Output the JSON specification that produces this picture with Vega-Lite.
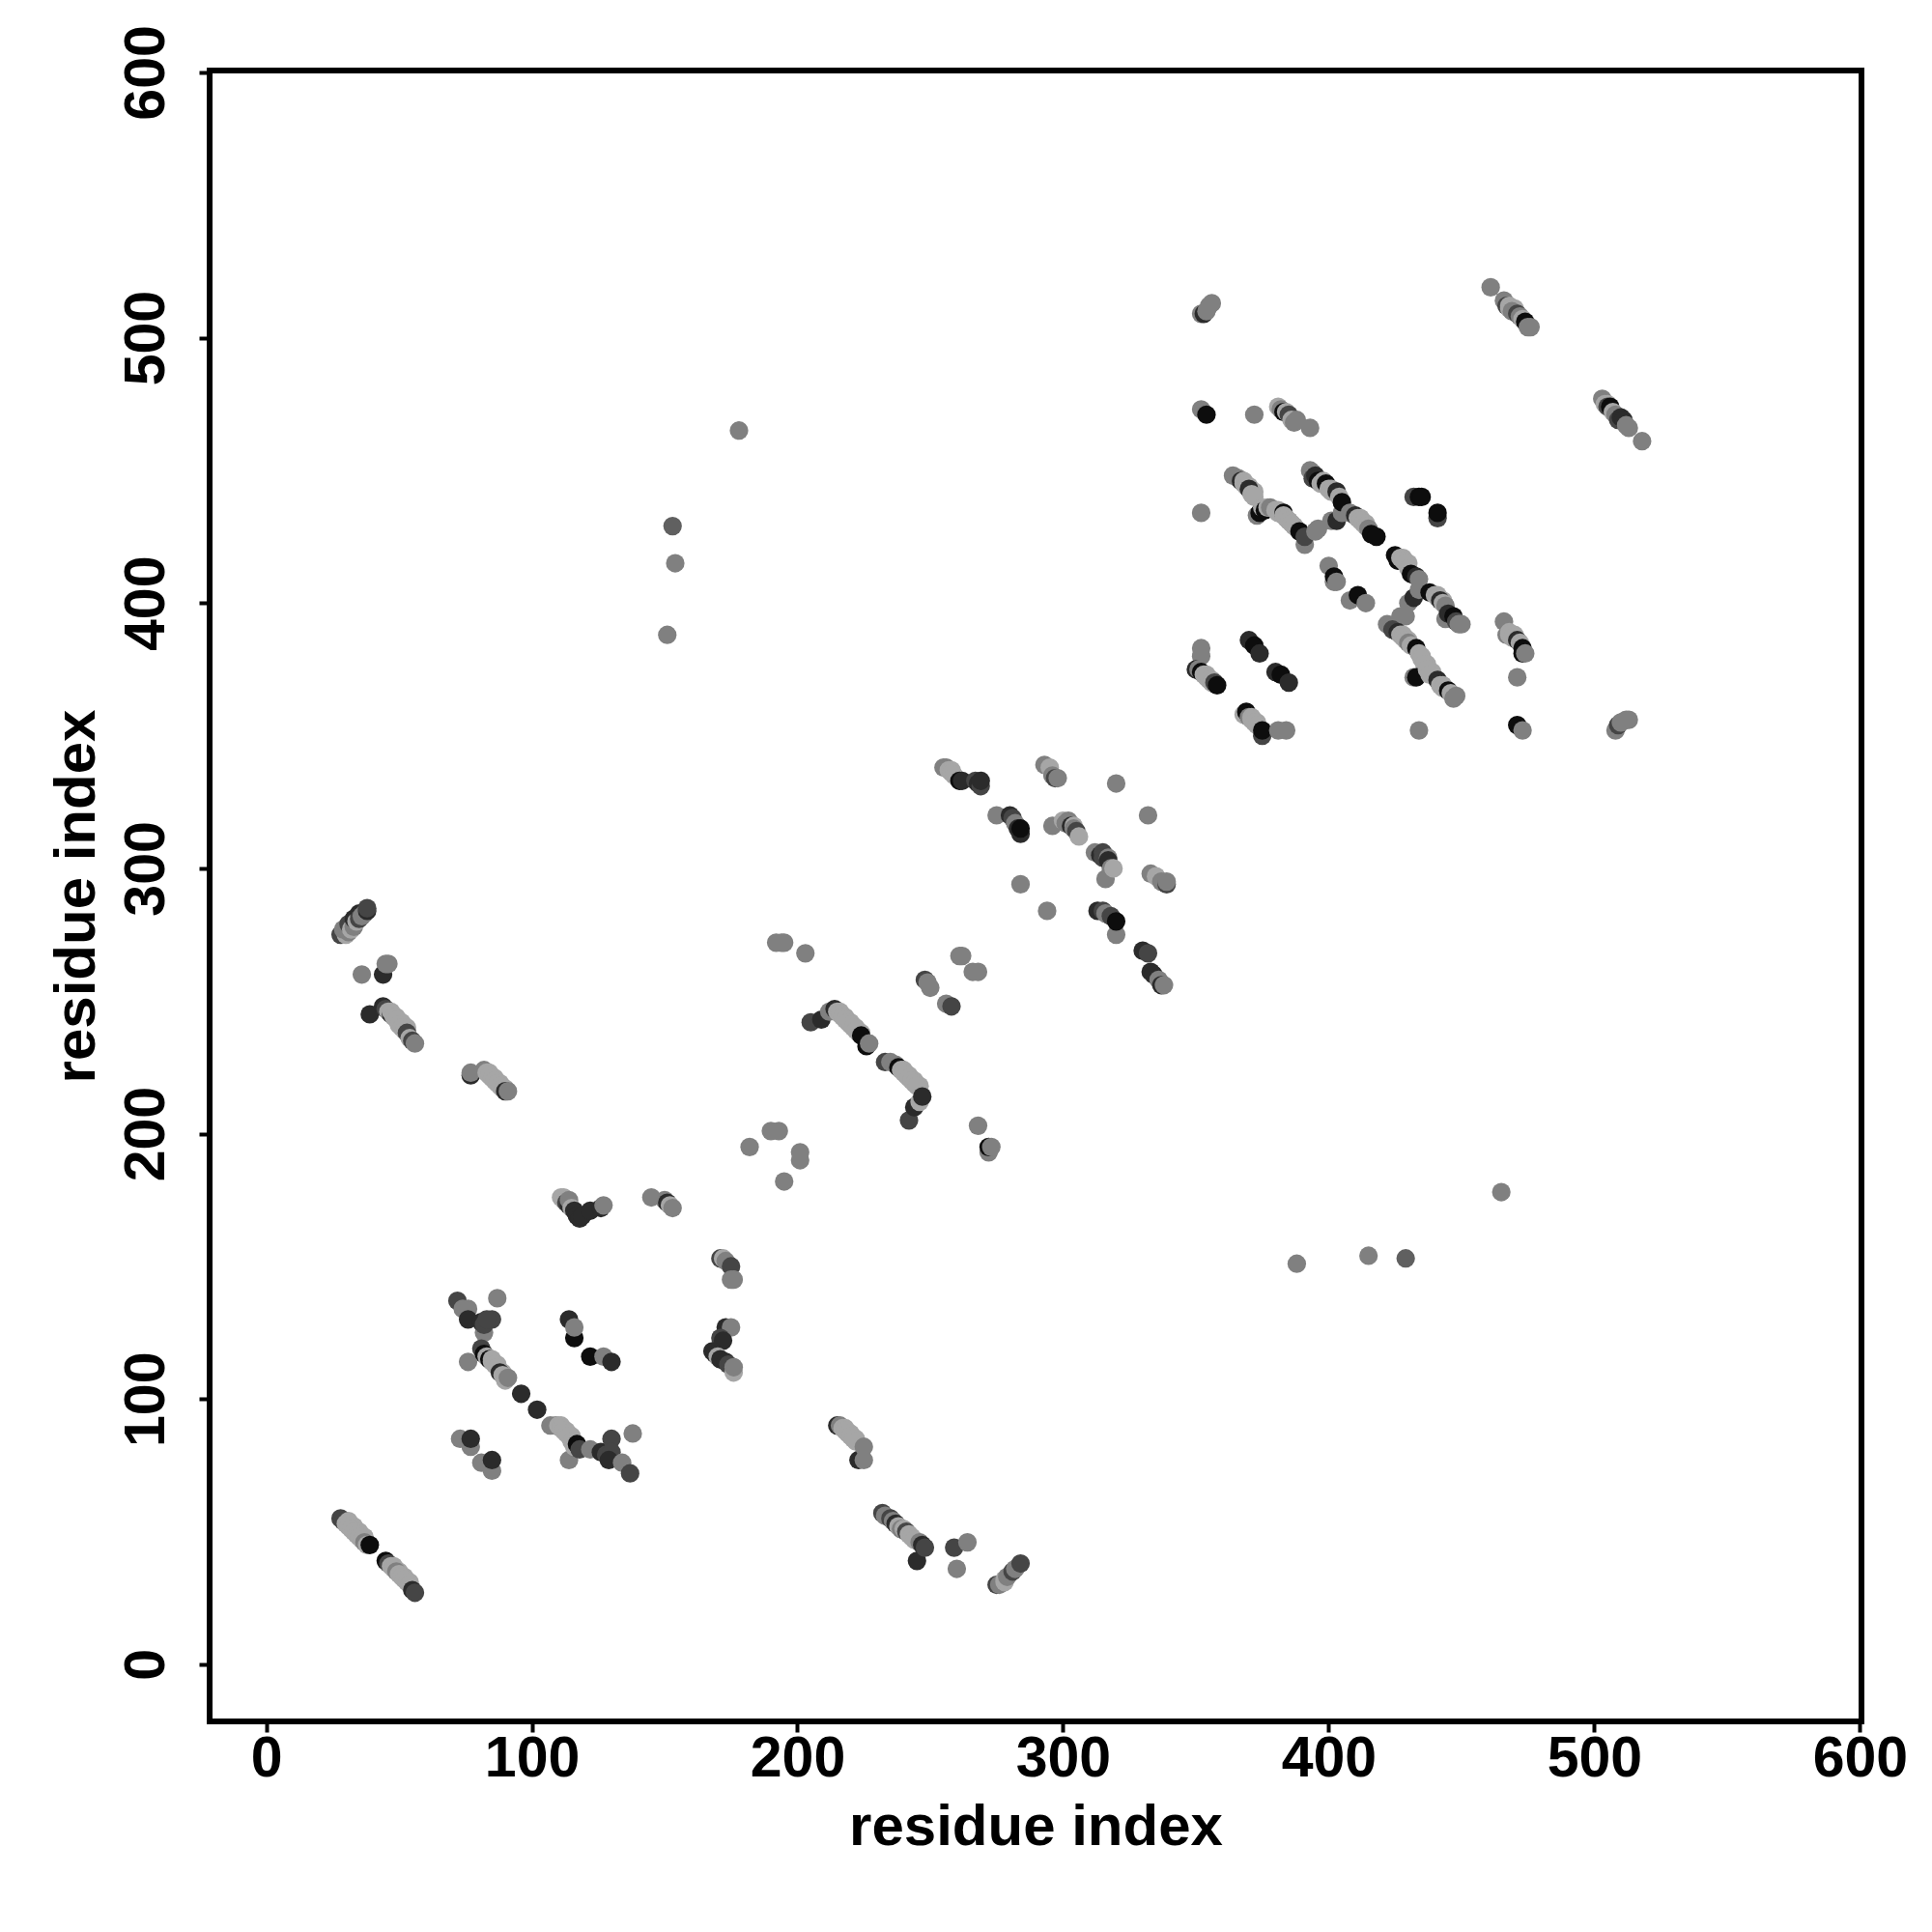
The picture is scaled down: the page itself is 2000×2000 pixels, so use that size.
{"$schema":"https://vega.github.io/schema/vega-lite/v6.json","width":1710,"height":1709,"autosize":"none","padding":{"left":217,"top":73,"right":73,"bottom":218},"background":"white","view":{"stroke":"black","strokeWidth":6,"fill":"white"},
"data":{"values":[
{"i":28,"j":55,"s":3},{"i":29,"j":54,"s":3},{"i":30,"j":53,"s":5},{"i":31,"j":54,"s":5},{"i":33,"j":52,"s":5},{"i":35,"j":50,"s":5},{"i":37,"j":48,"s":5},{"i":31,"j":52,"s":5},{"i":32,"j":51,"s":5},{"i":33,"j":50,"s":5},{"i":34,"j":49,"s":5},{"i":35,"j":48,"s":5},{"i":36,"j":47,"s":5},{"i":37,"j":46,"s":4},{"i":38,"j":45,"s":5},{"i":39,"j":45,"s":1},
{"i":45,"j":39,"s":1},{"i":46,"j":38,"s":3},{"i":47,"j":37,"s":5},{"i":48,"j":37,"s":5},{"i":50,"j":35,"s":5},{"i":52,"j":33,"s":5},{"i":54,"j":31,"s":5},{"i":48,"j":36,"s":5},{"i":49,"j":35,"s":4},{"i":50,"j":34,"s":5},{"i":51,"j":33,"s":5},{"i":52,"j":32,"s":5},{"i":53,"j":31,"s":5},{"i":54,"j":30,"s":5},{"i":55,"j":28,"s":2},{"i":56,"j":27,"s":3},
{"i":28,"j":275,"s":3},{"i":30,"j":275,"s":5},{"i":29,"j":277,"s":4},{"i":31,"j":276,"s":4},{"i":31,"j":279,"s":3},{"i":32,"j":277,"s":5},{"i":33,"j":278,"s":4},{"i":33,"j":281,"s":2},{"i":34,"j":280,"s":5},{"i":35,"j":283,"s":2},{"i":35,"j":281,"s":3},{"i":36,"j":282,"s":4},{"i":37,"j":283,"s":4},{"i":38,"j":284,"s":2},{"i":38,"j":285,"s":3},
{"i":44,"j":260,"s":2},{"i":45,"j":264,"s":4},{"i":46,"j":264,"s":4},{"i":36,"j":260,"s":4},
{"i":39,"j":245,"s":2},{"i":44,"j":248,"s":2},{"i":45,"j":247,"s":3},{"i":46,"j":246,"s":5},{"i":47,"j":245,"s":2},{"i":47,"j":246,"s":5},{"i":49,"j":244,"s":5},{"i":51,"j":242,"s":5},{"i":53,"j":240,"s":5},{"i":48,"j":244,"s":5},{"i":49,"j":243,"s":5},{"i":50,"j":241,"s":5},{"i":51,"j":240,"s":5},{"i":52,"j":239,"s":5},{"i":53,"j":238,"s":3},{"i":54,"j":236,"s":5},{"i":55,"j":235,"s":3},{"i":56,"j":234,"s":4},
{"i":77,"j":222,"s":2},{"i":77,"j":223,"s":4},{"i":82,"j":224,"s":4},{"i":84,"j":223,"s":5},{"i":86,"j":221,"s":5},{"i":88,"j":219,"s":5},{"i":90,"j":217,"s":5},{"i":83,"j":223,"s":5},{"i":84,"j":222,"s":5},{"i":85,"j":221,"s":5},{"i":86,"j":220,"s":5},{"i":87,"j":219,"s":5},{"i":88,"j":218,"s":5},{"i":89,"j":217,"s":5},{"i":90,"j":216,"s":2},{"i":91,"j":216,"s":4},
{"i":111,"j":176,"s":5},{"i":112,"j":175,"s":5},{"i":112,"j":176,"s":5},{"i":113,"j":174,"s":3},{"i":114,"j":173,"s":2},{"i":114,"j":175,"s":4},{"i":115,"j":172,"s":5},{"i":116,"j":171,"s":2},{"i":117,"j":169,"s":2},{"i":118,"j":168,"s":2},{"i":119,"j":169,"s":2},{"i":122,"j":171,"s":2},{"i":126,"j":172,"s":2},{"i":127,"j":173,"s":4},
{"i":145,"j":176,"s":4},{"i":150,"j":175,"s":4},{"i":151,"j":174,"s":2},{"i":152,"j":173,"s":5},{"i":153,"j":172,"s":4},
{"i":171,"j":153,"s":3},{"i":172,"j":153,"s":5},{"i":173,"j":152,"s":4},{"i":175,"j":150,"s":3},{"i":175,"j":145,"s":4},{"i":176,"j":145,"s":4},
{"i":173,"j":127,"s":2},{"i":175,"j":127,"s":4},{"i":171,"j":123,"s":3},{"i":172,"j":122,"s":2},{"i":168,"j":118,"s":2},{"i":169,"j":117,"s":2},{"i":170,"j":116,"s":5},{"i":171,"j":115,"s":2},{"i":173,"j":114,"s":2},{"i":174,"j":113,"s":3},{"i":176,"j":110,"s":5},{"i":176,"j":112,"s":4},
{"i":72,"j":137,"s":3},{"i":74,"j":134,"s":4},{"i":76,"j":134,"s":4},{"i":76,"j":130,"s":2},{"i":82,"j":125,"s":4},{"i":81,"j":129,"s":2},{"i":82,"j":128,"s":3},{"i":85,"j":130,"s":3},{"i":83,"j":130,"s":3},{"i":87,"j":138,"s":4},{"i":76,"j":114,"s":4},
{"i":81,"j":119,"s":3},{"i":82,"j":117,"s":1},{"i":83,"j":116,"s":5},{"i":84,"j":115,"s":1},{"i":85,"j":115,"s":5},{"i":87,"j":113,"s":5},{"i":89,"j":110,"s":5},{"i":85,"j":114,"s":5},{"i":86,"j":113,"s":5},{"i":87,"j":112,"s":5},{"i":88,"j":110,"s":2},{"i":89,"j":109,"s":5},{"i":90,"j":107,"s":5},{"i":91,"j":108,"s":4},
{"i":96,"j":102,"s":2},{"i":102,"j":96,"s":2},
{"i":107,"j":90,"s":4},{"i":109,"j":90,"s":4},{"i":110,"j":90,"s":5},{"i":111,"j":90,"s":5},{"i":113,"j":88,"s":5},{"i":115,"j":86,"s":5},{"i":111,"j":89,"s":5},{"i":112,"j":88,"s":5},{"i":113,"j":87,"s":5},{"i":114,"j":86,"s":5},{"i":115,"j":84,"s":5},{"i":114,"j":77,"s":4},{"i":116,"j":82,"s":5},{"i":117,"j":83,"s":1},{"i":118,"j":81,"s":3},
{"i":122,"j":81,"s":4},{"i":126,"j":80,"s":2},{"i":128,"j":79,"s":3},{"i":130,"j":85,"s":3},{"i":130,"j":80,"s":3},{"i":129,"j":77,"s":2},{"i":134,"j":76,"s":4},{"i":137,"j":72,"s":3},{"i":138,"j":87,"s":4},
{"i":73,"j":85,"s":4},{"i":77,"j":82,"s":4},{"i":77,"j":85,"s":2},{"i":81,"j":76,"s":4},{"i":85,"j":73,"s":4},{"i":85,"j":77,"s":2},
{"i":114,"j":130,"s":2},{"i":116,"j":123,"s":1},{"i":116,"j":127,"s":4},{"i":122,"j":116,"s":1},{"i":127,"j":116,"s":4},{"i":130,"j":114,"s":2},
{"i":215,"j":90,"s":2},{"i":216,"j":90,"s":4},{"i":217,"j":89,"s":5},{"i":218,"j":89,"s":5},{"i":220,"j":87,"s":5},{"i":222,"j":85,"s":5},{"i":218,"j":88,"s":5},{"i":219,"j":87,"s":5},{"i":220,"j":86,"s":5},{"i":221,"j":85,"s":5},{"i":222,"j":84,"s":5},{"i":223,"j":77,"s":2},{"i":225,"j":77,"s":4},{"i":225,"j":82,"s":4},
{"i":232,"j":57,"s":3},{"i":233,"j":56,"s":4},{"i":235,"j":55,"s":3},{"i":236,"j":54,"s":4},{"i":237,"j":53,"s":2},{"i":238,"j":52,"s":5},{"i":239,"j":51,"s":4},{"i":240,"j":51,"s":5},{"i":241,"j":50,"s":3},{"i":242,"j":49,"s":5},{"i":243,"j":48,"s":5},{"i":244,"j":47,"s":5},{"i":245,"j":39,"s":2},{"i":246,"j":46,"s":4},{"i":247,"j":45,"s":2},{"i":248,"j":44,"s":3},
{"i":259,"j":44,"s":3},{"i":264,"j":46,"s":4},{"i":260,"j":36,"s":4},
{"i":275,"j":30,"s":3},{"i":276,"j":30,"s":4},{"i":278,"j":31,"s":5},{"i":278,"j":32,"s":5},{"i":279,"j":33,"s":4},{"i":281,"j":35,"s":3},{"i":282,"j":36,"s":4},{"i":284,"j":38,"s":3},
{"i":205,"j":242,"s":3},{"i":209,"j":243,"s":2},{"i":212,"j":246,"s":4},{"i":214,"j":247,"s":2},{"i":215,"j":246,"s":5},{"i":216,"j":246,"s":5},{"i":218,"j":244,"s":5},{"i":220,"j":242,"s":5},{"i":222,"j":240,"s":5},{"i":224,"j":238,"s":5},{"i":216,"j":245,"s":5},{"i":217,"j":244,"s":5},{"i":218,"j":243,"s":5},{"i":219,"j":242,"s":5},{"i":220,"j":241,"s":5},{"i":221,"j":240,"s":5},{"i":222,"j":239,"s":5},{"i":223,"j":238,"s":5},{"i":224,"j":237,"s":1},{"i":226,"j":233,"s":1},{"i":227,"j":234,"s":4},
{"i":233,"j":227,"s":3},{"i":235,"j":227,"s":4},{"i":237,"j":226,"s":4},{"i":238,"j":225,"s":1},{"i":239,"j":224,"s":5},{"i":240,"j":224,"s":5},{"i":242,"j":222,"s":5},{"i":244,"j":220,"s":5},{"i":246,"j":218,"s":5},{"i":240,"j":223,"s":5},{"i":241,"j":222,"s":5},{"i":242,"j":221,"s":5},{"i":243,"j":220,"s":5},{"i":244,"j":219,"s":5},{"i":245,"j":218,"s":5},{"i":242,"j":205,"s":3},{"i":244,"j":210,"s":2},{"i":246,"j":212,"s":5},{"i":247,"j":214,"s":2},
{"i":192,"j":272,"s":4},{"i":194,"j":272,"s":4},{"i":195,"j":272,"s":4},{"i":203,"j":268,"s":4},
{"i":248,"j":258,"s":3},{"i":249,"j":257,"s":4},{"i":250,"j":255,"s":4},{"i":256,"j":249,"s":4},{"i":258,"j":248,"s":3},{"i":261,"j":267,"s":4},{"i":262,"j":267,"s":4},{"i":266,"j":261,"s":4},{"i":268,"j":261,"s":4},{"i":268,"j":203,"s":4},{"i":272,"j":193,"s":4},{"i":272,"j":195,"s":1},{"i":273,"j":195,"s":4},
{"i":182,"j":195,"s":4},{"i":190,"j":201,"s":4},{"i":193,"j":201,"s":4},{"i":201,"j":190,"s":4},{"i":201,"j":193,"s":4},{"i":195,"j":182,"s":4},
{"i":153,"j":429,"s":6},{"i":154,"j":415,"s":4},{"i":151,"j":388,"s":4},{"i":178,"j":465,"s":4},{"i":388,"j":151,"s":4},{"i":415,"j":154,"s":4},{"i":429,"j":153,"s":6},{"i":465,"j":178,"s":4},
{"i":255,"j":338,"s":4},{"i":256,"j":338,"s":4},{"i":257,"j":337,"s":5},{"i":258,"j":337,"s":5},{"i":258,"j":336,"s":5},{"i":259,"j":335,"s":5},{"i":261,"j":333,"s":1},{"i":262,"j":333,"s":2},{"i":267,"j":333,"s":3},{"i":268,"j":332,"s":2},{"i":269,"j":331,"s":3},{"i":269,"j":333,"s":2},
{"i":275,"j":320,"s":4},{"i":280,"j":320,"s":2},{"i":281,"j":319,"s":3},{"i":282,"j":317,"s":4},{"i":283,"j":315,"s":2},{"i":284,"j":313,"s":2},{"i":284,"j":315,"s":1},
{"i":293,"j":339,"s":4},{"i":295,"j":338,"s":5},{"i":296,"j":335,"s":4},{"i":297,"j":334,"s":3},{"i":298,"j":334,"s":4},{"i":320,"j":332,"s":4},{"i":332,"j":320,"s":4},{"i":296,"j":316,"s":4},{"i":300,"j":318,"s":5},{"i":302,"j":318,"s":4},{"i":301,"j":317,"s":4},{"i":303,"j":316,"s":2},{"i":304,"j":316,"s":5},{"i":304,"j":315,"s":4},{"i":305,"j":314,"s":3},{"i":306,"j":312,"s":5},
{"i":312,"j":306,"s":4},{"i":314,"j":305,"s":2},{"i":315,"j":306,"s":3},{"i":315,"j":304,"s":3},{"i":316,"j":296,"s":4},{"i":317,"j":304,"s":4},{"i":317,"j":303,"s":2},{"i":318,"j":300,"s":4},{"i":319,"j":300,"s":5},{"i":284,"j":294,"s":4},{"i":294,"j":284,"s":4},
{"i":313,"j":284,"s":2},{"i":315,"j":284,"s":3},{"i":316,"j":283,"s":4},{"i":318,"j":282,"s":3},{"i":320,"j":275,"s":4},{"i":320,"j":280,"s":1},
{"i":330,"j":269,"s":2},{"i":332,"j":268,"s":3},{"i":333,"j":261,"s":2},{"i":334,"j":260,"s":2},{"i":336,"j":258,"s":4},{"i":337,"j":256,"s":2},{"i":338,"j":256,"s":4},
{"i":333,"j":298,"s":4},{"i":335,"j":297,"s":5},{"i":337,"j":295,"s":4},{"i":339,"j":294,"s":3},{"i":339,"j":295,"s":4},
{"i":352,"j":509,"s":4},{"i":353,"j":509,"s":2},{"i":354,"j":510,"s":4},{"i":355,"j":512,"s":4},{"i":356,"j":513,"s":4},
{"i":461,"j":519,"s":4},{"i":466,"j":514,"s":4},{"i":467,"j":512,"s":3},{"i":468,"j":511,"s":5},{"i":468,"j":512,"s":5},{"i":470,"j":511,"s":5},{"i":469,"j":510,"s":4},{"i":471,"j":509,"s":3},{"i":472,"j":508,"s":4},{"i":473,"j":507,"s":5},{"i":474,"j":506,"s":1},{"i":475,"j":504,"s":4},{"i":476,"j":504,"s":4},
{"i":503,"j":477,"s":4},{"i":504,"j":475,"s":5},{"i":505,"j":475,"s":5},{"i":505,"j":474,"s":3},{"i":506,"j":474,"s":1},{"i":507,"j":472,"s":5},{"i":508,"j":471,"s":4},{"i":509,"j":469,"s":3},{"i":510,"j":470,"s":2},{"i":511,"j":469,"s":2},{"i":512,"j":467,"s":4},{"i":513,"j":466,"s":4},{"i":518,"j":461,"s":4},
{"i":352,"j":473,"s":4},{"i":354,"j":471,"s":1},{"i":372,"j":471,"s":4},
{"i":381,"j":474,"s":5},{"i":382,"j":473,"s":4},{"i":383,"j":472,"s":1},{"i":384,"j":472,"s":5},{"i":385,"j":471,"s":3},{"i":386,"j":469,"s":5},{"i":387,"j":468,"s":4},{"i":388,"j":469,"s":4},{"i":393,"j":466,"s":4},
{"i":352,"j":434,"s":4},
{"i":364,"j":448,"s":4},{"i":366,"j":447,"s":4},{"i":367,"j":446,"s":2},{"i":368,"j":446,"s":5},{"i":370,"j":444,"s":5},{"i":372,"j":442,"s":5},{"i":368,"j":445,"s":5},{"i":369,"j":444,"s":5},{"i":370,"j":443,"s":2},{"i":371,"j":441,"s":5},{"i":372,"j":440,"s":5},{"i":373,"j":433,"s":4},{"i":374,"j":434,"s":1},{"i":375,"j":436,"s":5},{"i":376,"j":435,"s":1},{"i":377,"j":436,"s":5},{"i":378,"j":436,"s":4},{"i":380,"j":435,"s":5},{"i":381,"j":435,"s":5},{"i":381,"j":434,"s":5},{"i":383,"j":434,"s":1},{"i":383,"j":433,"s":5},{"i":385,"j":431,"s":5},{"i":387,"j":429,"s":5},{"i":384,"j":432,"s":5},{"i":385,"j":431,"s":5},{"i":386,"j":430,"s":5},{"i":387,"j":429,"s":5},{"i":389,"j":427,"s":1},{"i":391,"j":422,"s":4},{"i":391,"j":425,"s":3},{"i":395,"j":427,"s":4},{"i":396,"j":428,"s":4},
{"i":401,"j":431,"s":4},{"i":403,"j":431,"s":2},{"i":405,"j":434,"s":4},
{"i":393,"j":450,"s":4},{"i":394,"j":449,"s":4},{"i":394,"j":447,"s":3},{"i":395,"j":448,"s":2},{"i":396,"j":446,"s":1},{"i":397,"j":445,"s":5},{"i":398,"j":446,"s":5},{"i":399,"j":445,"s":1},{"i":400,"j":443,"s":5},{"i":401,"j":443,"s":5},{"i":401,"j":442,"s":5},{"i":403,"j":442,"s":2},{"i":404,"j":440,"s":5},{"i":405,"j":438,"s":1},
{"i":408,"j":434,"s":4},{"i":410,"j":433,"s":2},{"i":411,"j":432,"s":5},{"i":412,"j":432,"s":5},{"i":414,"j":430,"s":5},{"i":412,"j":431,"s":5},{"i":413,"j":430,"s":5},{"i":414,"j":429,"s":5},{"i":415,"j":428,"s":4},{"i":416,"j":426,"s":1},{"i":418,"j":425,"s":1},
{"i":432,"j":440,"s":3},{"i":434,"j":440,"s":1},{"i":435,"j":440,"s":1},{"i":441,"j":432,"s":3},{"i":441,"j":434,"s":1},
{"i":425,"j":418,"s":1},{"i":426,"j":416,"s":1},{"i":427,"j":417,"s":5},{"i":428,"j":417,"s":5},{"i":430,"j":415,"s":5},{"i":428,"j":416,"s":5},{"i":429,"j":415,"s":5},{"i":430,"j":413,"s":5},{"i":431,"j":411,"s":1},{"i":433,"j":410,"s":2},{"i":434,"j":409,"s":4},{"i":427,"j":395,"s":4},{"i":422,"j":392,"s":4},{"i":429,"j":395,"s":4},{"i":430,"j":400,"s":4},{"i":432,"j":402,"s":2},{"i":434,"j":405,"s":4},
{"i":438,"j":404,"s":1},{"i":440,"j":403,"s":5},{"i":441,"j":403,"s":5},{"i":443,"j":401,"s":5},{"i":441,"j":402,"s":5},{"i":442,"j":401,"s":2},{"i":443,"j":400,"s":5},{"i":444,"j":399,"s":4},{"i":444,"j":394,"s":4},{"i":445,"j":396,"s":2},{"i":447,"j":395,"s":1},{"i":448,"j":393,"s":3},{"i":449,"j":392,"s":4},{"i":450,"j":392,"s":4},
{"i":424,"j":390,"s":3},{"i":426,"j":389,"s":2},{"i":427,"j":388,"s":5},{"i":428,"j":388,"s":5},{"i":430,"j":386,"s":5},{"i":428,"j":387,"s":5},{"i":429,"j":386,"s":5},{"i":430,"j":385,"s":4},{"i":431,"j":384,"s":5},{"i":433,"j":383,"s":1},{"i":434,"j":381,"s":5},{"i":435,"j":380,"s":5},{"i":437,"j":377,"s":5},{"i":439,"j":374,"s":5},{"i":435,"j":379,"s":5},{"i":436,"j":377,"s":5},{"i":432,"j":372,"s":4},{"i":433,"j":372,"s":1},{"i":437,"j":375,"s":5},{"i":438,"j":373,"s":5},{"i":441,"j":371,"s":2},{"i":443,"j":369,"s":5},{"i":442,"j":369,"s":5},{"i":443,"j":368,"s":5},{"i":445,"j":367,"s":1},{"i":446,"j":366,"s":5},{"i":447,"j":364,"s":4},{"i":448,"j":365,"s":4},
{"i":400,"j":414,"s":4},{"i":402,"j":408,"s":4},{"i":402,"j":410,"s":1},{"i":403,"j":408,"s":4},{"i":408,"j":401,"s":4},{"i":411,"j":403,"s":1},{"i":414,"j":400,"s":4},
{"i":352,"j":383,"s":4},{"i":352,"j":380,"s":4},{"i":350,"j":375,"s":2},{"i":351,"j":375,"s":4},{"i":352,"j":374,"s":1},{"i":353,"j":373,"s":5},{"i":354,"j":373,"s":5},{"i":356,"j":371,"s":5},{"i":354,"j":372,"s":5},{"i":355,"j":371,"s":5},{"i":356,"j":370,"s":5},{"i":357,"j":370,"s":3},{"i":358,"j":369,"s":1},
{"i":370,"j":386,"s":2},{"i":372,"j":384,"s":1},{"i":374,"j":381,"s":2},{"i":380,"j":374,"s":2},{"i":382,"j":373,"s":1},{"i":385,"j":370,"s":2},
{"i":368,"j":358,"s":5},{"i":369,"j":359,"s":1},{"i":370,"j":357,"s":4},{"i":371,"j":357,"s":5},{"i":373,"j":355,"s":5},{"i":371,"j":356,"s":5},{"i":372,"j":355,"s":5},{"i":373,"j":354,"s":5},{"i":375,"j":350,"s":3},{"i":375,"j":352,"s":1},{"i":381,"j":352,"s":4},{"i":384,"j":352,"s":4},
{"i":434,"j":352,"s":4},{"i":471,"j":372,"s":4},{"i":471,"j":354,"s":1},{"i":473,"j":352,"s":4},
{"i":466,"j":393,"s":4},{"i":467,"j":388,"s":4},{"i":468,"j":389,"s":5},{"i":468,"j":388,"s":5},{"i":470,"j":388,"s":5},{"i":469,"j":387,"s":5},{"i":471,"j":386,"s":2},{"i":472,"j":385,"s":5},{"i":473,"j":383,"s":1},{"i":473,"j":381,"s":1},{"i":474,"j":381,"s":4},
{"i":508,"j":352,"s":4},{"i":509,"j":354,"s":3},{"i":510,"j":355,"s":4},{"i":512,"j":356,"s":4},{"i":513,"j":356,"s":4}
]},
"mark":{"type":"circle","size":370,"opacity":1},
"encoding":{
"x":{"field":"i","type":"quantitative","scale":{"domain":[-21.3,600.6],"nice":false,"zero":false},"axis":{"title":"residue index","values":[0,100,200,300,400,500,600],"domain":false,"grid":false,"tickColor":"black","tickWidth":4,"tickSize":11,"labelFont":"Liberation Sans","labelFontWeight":"bold","labelFontSize":59,"labelColor":"black","labelPadding":-2,"labelOverlap":false,"labelBound":false,"labelFlush":false,"titleFont":"Liberation Sans","titleFontWeight":"bold","titleFontSize":60,"titleColor":"black","titlePadding":12}},
"y":{"field":"j","type":"quantitative","scale":{"domain":[-21.5,600.7],"nice":false,"zero":false},"axis":{"title":"residue index","values":[0,100,200,300,400,500,600],"domain":false,"grid":false,"tickColor":"black","tickWidth":4,"tickSize":11,"labelFont":"Liberation Sans","labelFontWeight":"bold","labelFontSize":59,"labelColor":"black","labelAngle":-90,"labelAlign":"center","labelBaseline":"bottom","labelPadding":25,"labelOverlap":false,"labelBound":false,"labelFlush":false,"titleFont":"Liberation Sans","titleFontWeight":"bold","titleFontSize":60,"titleColor":"black","titlePadding":12}},
"color":{"field":"s","type":"ordinal","legend":null,"scale":{"domain":[1,2,3,6,4,5],"range":["#0d0d0d","#2b2b2b","#454545","#606060","#808080","#a6a6a6"]}}
}}
